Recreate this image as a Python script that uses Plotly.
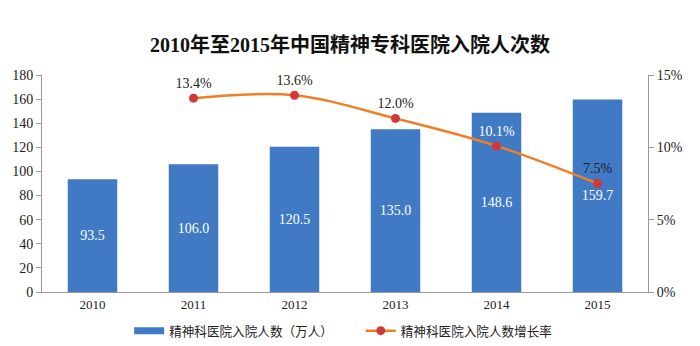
import plotly.graph_objects as go

years = ["2010", "2011", "2012", "2013", "2014", "2015"]
admissions = [93.5, 106.0, 120.5, 135.0, 148.6, 159.7]
growth_years = ["2011", "2012", "2013", "2014", "2015"]
growth = [13.4, 13.6, 12.0, 10.1, 7.5]
growth_labels = ["13.4%", "13.6%", "12.0%", "10.1%", "7.5%"]
growth_label_colors = ["#222222", "#222222", "#222222", "#ffffff", "#222222"]

serif = "Liberation Serif, Times New Roman, Noto Sans CJK SC, serif"
bar_name = "精神科医院入院人数（万人）"
line_name = "精神科医院入院人数增长率"

fig = go.Figure()
fig.add_trace(go.Bar(
    x=years, y=admissions, name=bar_name, showlegend=False,
    marker=dict(color="#4079C4", line=dict(width=0)),
    text=[f"{v:.1f}" for v in admissions], textposition="inside",
    insidetextanchor="middle",
    textfont=dict(color="white", size=14, family=serif),
    yaxis="y",
))
# legend proxy for bars (wide rectangle symbol)
fig.add_trace(go.Scatter(
    x=[None], y=[None], name=bar_name, mode="lines",
    line=dict(color="#4079C4", width=7), yaxis="y", legend="legend",
))
fig.add_trace(go.Scatter(
    x=growth_years, y=growth, name=line_name,
    mode="lines+markers+text", cliponaxis=False,
    line=dict(color="#F07F24", width=2.5, shape="spline", smoothing=1.0),
    marker=dict(color="#D0383A", size=9),
    text=growth_labels, textposition="top center",
    textfont=dict(color=growth_label_colors, size=14, family=serif),
    yaxis="y2", legend="legend2",
))

legend_font = dict(size=12.6, color="#222222", family="Noto Sans CJK SC, sans-serif")
fig.update_layout(
    width=700, height=346,
    margin=dict(l=36, r=52, t=75, b=54),
    paper_bgcolor="white", plot_bgcolor="white",
    title=dict(text="<b>2010年至2015年中国精神专科医院入院人次数</b>",
               x=0.5, xanchor="center", yref="container", y=0.87, yanchor="middle",
               font=dict(size=20, color="#111111", family=serif)),
    bargap=0.51,
    showlegend=True,
    legend=dict(orientation="h", x=0.1438, xanchor="left",
                yref="container", y=0, yanchor="bottom",
                font=legend_font, itemwidth=30, bgcolor="rgba(0,0,0,0)"),
    legend2=dict(orientation="h", x=0.526, xanchor="left",
                 yref="container", y=0, yanchor="bottom",
                 font=legend_font, itemwidth=30, bgcolor="rgba(0,0,0,0)"),
    xaxis=dict(showline=True, linecolor="#9a9a9a", linewidth=1, ticks="",
               tickfont=dict(size=13, family=serif, color="#222222"),
               showgrid=False, anchor="y", automargin=False),
    yaxis=dict(range=[0, 180], dtick=20, showline=True, linecolor="#9a9a9a",
               ticks="outside", ticklen=5, tickcolor="#9a9a9a",
               tickfont=dict(size=14, family=serif, color="#222222"),
               showgrid=False, zeroline=False),
    yaxis2=dict(range=[0, 15], dtick=5, overlaying="y", side="right",
                showline=True, linecolor="#9a9a9a", ticks="outside", ticklen=5,
                tickcolor="#9a9a9a", ticksuffix="%",
                tickfont=dict(size=14, family=serif, color="#222222"),
                showgrid=False, zeroline=False),
)

fig.write_html("out.html")
